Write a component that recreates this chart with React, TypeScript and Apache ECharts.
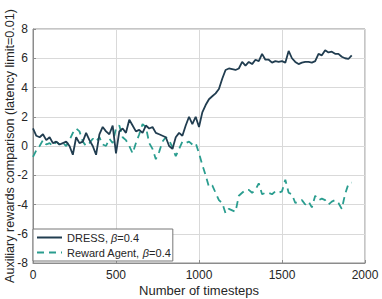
import React, { useEffect, useRef } from "react";
import * as echarts from "echarts";

const timesteps = [
  0, 20, 40, 60, 80, 100, 120, 140, 160, 180, 200, 220, 240, 260, 280, 300, 320, 340, 360, 380,
  400, 420, 440, 460, 480, 500, 520, 540, 560, 580, 600, 620, 640, 660, 680, 700, 720, 740, 760, 780,
  800, 820, 840, 860, 880, 900, 920, 940, 960, 980, 1000, 1020, 1040, 1060, 1080, 1100, 1120, 1140, 1160, 1180,
  1200, 1220, 1240, 1260, 1280, 1300, 1320, 1340, 1360, 1380, 1400, 1420, 1440, 1460, 1480, 1500, 1520, 1540, 1560, 1580,
  1600, 1620, 1640, 1660, 1680, 1700, 1720, 1740, 1760, 1780, 1800, 1820, 1840, 1860, 1880, 1900, 1920,
];

const dress = [
  1.2, 0.7, 0.6, 0.8, 0.4, 0.6, 0.2, 0.3, 0.1, 0.2, 0.3, 0.0, -0.6, 0.6, 0.2, 0.3, 0.9, 0.4, 0.0, -0.6,
  0.8, 1.3, 1.0, 0.8, 1.4, -0.5, 1.0, 1.2, 0.9, 1.8, 1.4, 1.0, 1.1, 0.9, 1.4, 1.2, 1.3, 0.9, 0.8, 0.7,
  0.6, 0.0, -0.2, 0.6, 0.9, 0.7, 1.4, 2.0, 1.5, 2.0, 1.3, 2.3, 2.8, 3.2, 3.4, 3.6, 3.9, 4.6, 5.2, 5.3,
  5.25, 5.2, 5.3, 5.75, 5.5, 5.75, 5.6, 5.9, 5.8, 6.3, 5.9, 5.9, 5.7, 5.8, 5.75, 5.8, 5.7, 6.5, 6.0, 5.75,
  5.6, 5.7, 5.75, 5.75, 5.7, 5.8, 6.3, 6.2, 6.55, 6.4, 6.45, 6.3, 6.3, 6.1, 6.0, 5.95, 6.2,
];

const rewardAgent = [
  -0.75, -0.3, 0.0, 0.4, 0.1, 0.2, 0.0, 0.3, 0.1, 0.2, 0.0, 0.4, 0.9, 1.2, 1.0, 0.3, 0.0, 0.2, 0.5, 0.3,
  0.6, 0.1, 0.0, 0.5, 0.2, 1.2, 1.4, 0.6, 0.4, 0.0, -0.5, 0.2, 0.8, 1.5, 1.3, 0.2, -0.2, -0.9, -0.4, 0.3,
  0.6, 0.4, -0.1, -0.7, -0.2, 0.3, 0.2, 0.3, 0.1, 0.2, -0.5, -1.3, -2.0, -2.8, -2.7, -3.2, -3.7, -3.9, -4.6, -4.3,
  -4.4, -4.5, -3.4, -3.2, -3.0, -3.0, -3.2, -3.0, -2.55, -3.3, -3.2, -3.2, -3.3, -3.1, -3.2, -3.1, -2.3, -3.2, -3.3, -3.9,
  -3.8, -3.7, -4.0, -3.8, -4.2, -3.4, -3.7, -3.6, -3.7, -4.0, -3.8, -3.7, -3.9, -4.3, -3.3, -2.6, -2.5,
];

const xTicks = { min: 0, max: 2000, interval: 500 };
const yTicks = { min: -8, max: 8, interval: 2 };

const seriesNames = ["DRESS", "Reward Agent"];
const colors = ["#213d50", "#2a9d8f"];

export default function App() {
  const ref = useRef<HTMLDivElement>(null);
  useEffect(() => {
    if (!ref.current) return;
    const chart = echarts.init(ref.current, null, { renderer: "svg" });
    const font = "'Liberation Sans', Arial, sans-serif";
    chart.setOption({
      animation: false,
      textStyle: { fontFamily: font },
      grid: {
        left: 33,
        right: 17,
        top: 29,
        bottom: 36,
        outerBoundsMode: "none",
        containLabel: false,
        show: true,
        borderColor: "#8c8c8c",
        borderWidth: 1,
      },
      legend: {
        orient: "vertical",
        left: 33,
        bottom: 38,
        backgroundColor: "#ffffff",
        borderColor: "#777777",
        borderWidth: 1,
        borderRadius: 0,
        padding: [3, 2, 3, 3],
        itemGap: 4,
        itemWidth: 25,
        itemHeight: 12,
        itemStyle: { opacity: 0 },
        data: seriesNames,
        textStyle: {
          fontFamily: font,
          fontSize: 11,
          color: "#262626",
          rich: {
            a: { fontFamily: font, fontSize: 11, color: "#262626" },
            b: { fontFamily: font, fontSize: 11, color: "#262626", fontStyle: "italic" },
          },
        },
        formatter: (name: string) => `{a|${name}, }{b|β}{a|=0.4}`,
      },
      xAxis: {
        type: "value",
        min: xTicks.min,
        max: xTicks.max,
        interval: xTicks.interval,
        name: "Number of timesteps",
        nameLocation: "middle",
        nameGap: 21,
        nameMoveOverlap: false,
        nameTextStyle: { fontFamily: font, fontSize: 13, color: "#262626" },
        axisLine: { show: true, onZero: false, lineStyle: { color: "#8c8c8c" } },
        axisTick: { show: true, inside: true, length: 3, lineStyle: { color: "#8c8c8c" } },
        axisLabel: {
          fontFamily: font,
          fontSize: 12,
          color: "#262626",
          margin: 6,
          formatter: (v: number) => String(v),
        },
        splitLine: { show: true, lineStyle: { color: "#d9d9d9", width: 1 } },
      },
      yAxis: {
        type: "value",
        min: yTicks.min,
        max: yTicks.max,
        interval: yTicks.interval,
        name: "Auxiliary rewards comparison (latency limit=0.01)",
        nameLocation: "middle",
        nameGap: 17,
        nameMoveOverlap: false,
        nameTextStyle: { fontFamily: font, fontSize: 12.6, color: "#262626" },
        axisLine: { show: true, onZero: false, lineStyle: { color: "#8c8c8c" } },
        axisTick: { show: true, inside: true, length: 3, lineStyle: { color: "#8c8c8c" } },
        axisLabel: {
          fontFamily: font,
          fontSize: 12,
          color: "#262626",
          margin: 5,
          formatter: (v: number) => String(v),
        },
        splitLine: { show: true, lineStyle: { color: "#d9d9d9", width: 1 } },
      },
      series: [
        {
          name: seriesNames[0],
          type: "line",
          data: timesteps.map((t, i) => [t, dress[i]]),
          symbol: "none",
          color: colors[0],
          lineStyle: { color: colors[0], width: 1.8 },
          z: 3,
        },
        {
          name: seriesNames[1],
          type: "line",
          data: timesteps.map((t, i) => [t, rewardAgent[i]]),
          symbol: "none",
          color: colors[1],
          lineStyle: { color: colors[1], width: 1.8, type: [7, 5] },
          z: 2,
        },
      ],
    });
    return () => chart.dispose();
  }, []);
  return <div ref={ref} style={{ width: 382, height: 299, position: "absolute", left: 0, top: 0 }} />;
}
